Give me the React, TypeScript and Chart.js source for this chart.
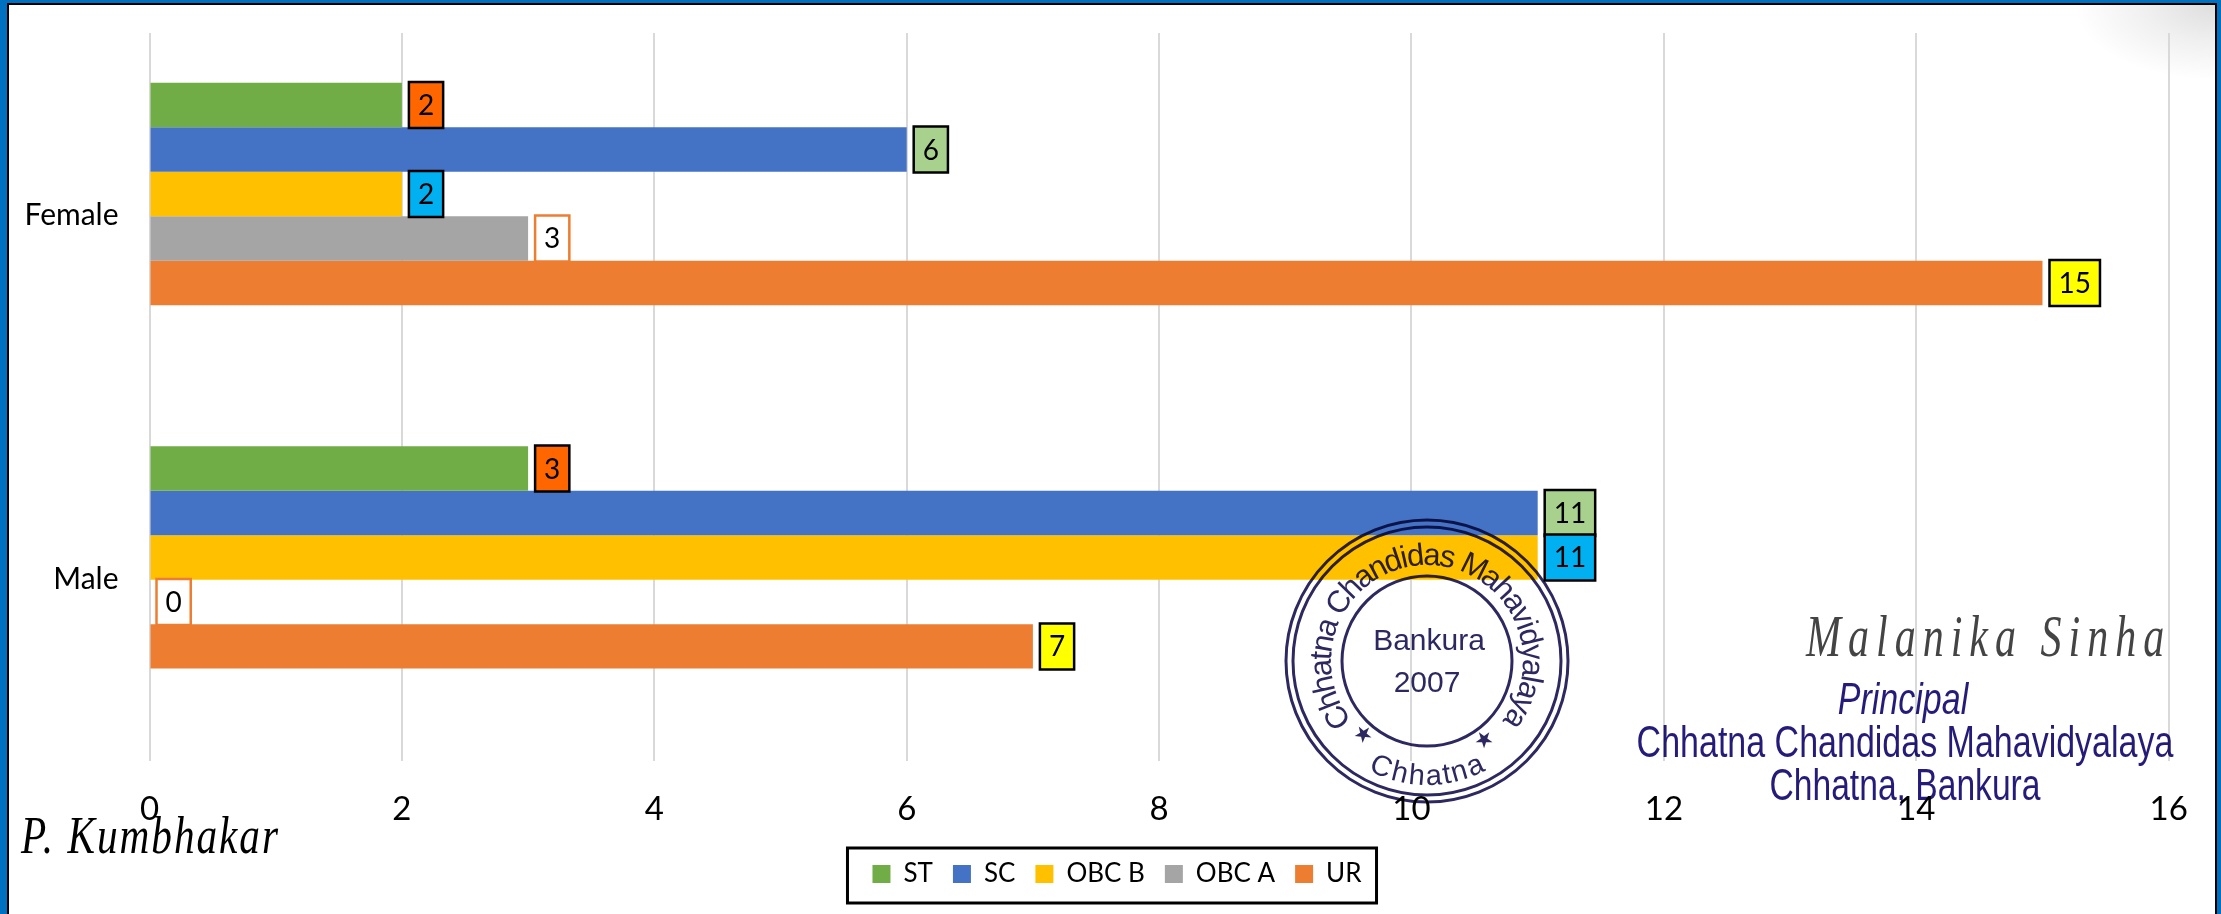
import React, { useEffect, useRef } from "react";
import { Chart, registerables } from "chart.js";

Chart.register(...registerables);

const categories = ["Female", "Male"];
const seriesNames = ["ST", "SC", "OBC B", "OBC A", "UR"];
const ST = [2, 3];
const SC = [6, 11];
const OBC_B = [2, 11];
const OBC_A = [3, 0];
const UR = [15, 7];
const xTicks = [0, 2, 4, 6, 8, 10, 12, 14, 16];
const seriesColors = ["#70ad47", "#4472c4", "#ffc000", "#a5a5a5", "#ed7d31"];
const labelFills = ["#ff6600", "#a9d18e", "#00b0f0", "#ffffff", "#ffff00"];
const labelBorders = ["#000000", "#000000", "#000000", "#ed7d31", "#000000"];

const FONT = "Lato";
const INK = "#2d2960";
const BLUE_INK = "#241c78";

function arcText(ctx: CanvasRenderingContext2D, text: string, cx: number, cy: number, r: number, startDeg: number, endDeg: number, inward: boolean) {
  const widths = [...text].map((c) => ctx.measureText(c).width);
  const total = widths.reduce((a, b) => a + b, 0);
  let run = 0;
  [...text].forEach((c, i) => {
    const mid = (run + widths[i] / 2) / total;
    run += widths[i];
    const deg = startDeg + (endDeg - startDeg) * mid;
    const a = (deg * Math.PI) / 180;
    ctx.save();
    ctx.translate(cx + r * Math.sin(a), cy - r * Math.cos(a));
    ctx.rotate(inward ? a : a + Math.PI);
    ctx.textAlign = "center";
    ctx.textBaseline = "alphabetic";
    ctx.fillText(c, 0, 0);
    ctx.restore();
  });
}

function tallText(ctx: CanvasRenderingContext2D, text: string, x: number, y: number, maxWidth: number, stretch: number) {
  ctx.save();
  ctx.translate(x, y);
  ctx.scale(1, stretch);
  ctx.fillText(text, 0, 0, maxWidth);
  ctx.restore();
}

const stampPlugin = {
  id: "stamp",
  afterDatasetsDraw(chart: any) {
    const ctx: CanvasRenderingContext2D = chart.ctx;
    const cx = 1427;
    const cy = 661;
    ctx.save();
    ctx.globalCompositeOperation = "multiply";
    ctx.strokeStyle = INK;
    ctx.fillStyle = INK;
    ctx.lineWidth = 3;
    [141, 134, 85].forEach((r) => {
      ctx.beginPath();
      ctx.arc(cx, cy, r, 0, Math.PI * 2);
      ctx.stroke();
    });
    ctx.font = "31px 'Liberation Sans'";
    arcText(ctx, "Chhatna Chandidas Mahavidyalaya", cx, cy, 96, -128, 128, true);
    ctx.font = "29px 'Liberation Sans'";
    arcText(ctx, "Chhatna", cx, cy, 124, 209, 151, false);
    ctx.font = "22px 'DejaVu Sans'";
    arcText(ctx, "★", cx, cy, 104, 221, 221, false);
    arcText(ctx, "★", cx, cy, 104, 144, 144, false);
    ctx.font = "30px 'Liberation Sans'";
    ctx.textAlign = "center";
    ctx.textBaseline = "middle";
    ctx.fillText("Bankura", cx + 2, 642);
    ctx.fillText("2007", cx, 684);
    ctx.restore();
  },
};

const labelPlugin = {
  id: "boxedLabels",
  afterDatasetsDraw(chart: any) {
    const ctx: CanvasRenderingContext2D = chart.ctx;
    ctx.save();
    ctx.font = `28px ${FONT}`;
    ctx.textAlign = "center";
    ctx.textBaseline = "middle";
    chart.data.datasets.forEach((ds: any, d: number) => {
      chart.getDatasetMeta(d).data.forEach((bar: any, i: number) => {
        const text = String(ds.data[i].x);
        const w = ctx.measureText(text).width + 18;
        const left = bar.x + 7;
        const h = 46;
        ctx.fillStyle = labelFills[d];
        ctx.strokeStyle = labelBorders[d];
        ctx.lineWidth = 2.5;
        ctx.beginPath();
        ctx.rect(left, bar.y - h / 2, w, h);
        ctx.fill();
        ctx.stroke();
        ctx.fillStyle = "#000";
        ctx.fillText(text, left + w / 2, bar.y + 1);
      });
    });
    ctx.restore();
  },
};

const notesPlugin = {
  id: "notes",
  afterDraw(chart: any) {
    const ctx: CanvasRenderingContext2D = chart.ctx;
    const hit = chart.legend.legendHitBoxes;
    const first = hit[0];
    const last = hit[hit.length - 1];
    ctx.save();
    ctx.strokeStyle = "#000";
    ctx.lineWidth = 3;
    ctx.strokeRect(first.left - 25, first.top - 13, last.left + last.width - first.left + 40, 55);

    ctx.globalCompositeOperation = "multiply";
    ctx.fillStyle = BLUE_INK;
    ctx.textAlign = "center";
    ctx.textBaseline = "middle";
    ctx.font = "italic 34px 'Liberation Sans'";
    tallText(ctx, "Principal", 1903, 702, 131, 1.3);
    ctx.font = "34px 'Liberation Sans'";
    tallText(ctx, "Chhatna Chandidas Mahavidyalaya", 1905, 745, 537, 1.3);
    tallText(ctx, "Chhatna, Bankura", 1905, 788, 271, 1.3);

    ctx.fillStyle = "#444";
    ctx.font = "italic 42px 'Liberation Serif'";
    (ctx as any).letterSpacing = "7px";
    ctx.textAlign = "left";
    ctx.textBaseline = "alphabetic";
    tallText(ctx, "Malanika Sinha", 1806, 656, 374, 1.4);
    ctx.fillStyle = "#000";
    (ctx as any).letterSpacing = "2px";
    ctx.font = "italic 42px 'Liberation Serif'";
    tallText(ctx, "P. Kumbhakar", 21, 853, 259, 1.25);
    ctx.restore();
  },
};

export default function App() {
  const ref = useRef<HTMLCanvasElement>(null);
  useEffect(() => {
    document.body.style.margin = "0";
    const seriesValues = [ST, SC, OBC_B, OBC_A, UR];
    const chart = new Chart(ref.current as HTMLCanvasElement, {
      type: "bar",
      data: {
        labels: categories,
        datasets: seriesNames.map((name, s) => ({
          label: name,
          yAxisID: "bars",
          data: seriesValues[s].map((v, i) => ({ x: v, y: i })),
          backgroundColor: seriesColors[s],
          barPercentage: 1,
          categoryPercentage: 0.6116,
        })),
      } as any,
      options: {
        indexAxis: "y",
        animation: false,
        responsive: false,
        layout: { padding: { top: 33, right: 7, bottom: 17, left: 20 } },
        plugins: {
          tooltip: { enabled: false },
          legend: {
            position: "bottom",
            labels: {
              boxWidth: 18,
              boxHeight: 18,
              padding: 20,
              color: "#000",
              font: { family: FONT, size: 26 },
            },
          },
        },
        scales: {
          x: {
            type: "linear",
            min: 0,
            max: 16.359,
            afterBuildTicks: (s: any) => {
              s.ticks = xTicks.map((value) => ({ value }));
            },
            afterFit: (s: any) => {
              s.height = 80;
            },
            grid: { color: "#d9d9d9", lineWidth: 2, drawTicks: false },
            border: { display: false },
            ticks: { color: "#000", font: { family: FONT, size: 33 }, padding: 29, maxRotation: 0 },
          },
          y: {
            type: "category",
            labels: categories,
            offset: true,
            afterFit: (s: any) => {
              s.width = 129.5;
              s.paddingTop = 0;
              s.paddingBottom = 0;
            },
            grid: { display: false, drawTicks: false },
            border: { display: false },
            ticks: { color: "#000", font: { family: FONT, size: 30 }, padding: 31 },
          },
          bars: {
            type: "linear",
            axis: "y",
            display: false,
            offset: false,
            reverse: true,
            min: -0.443,
            max: 1.56,
            afterBuildTicks: (s: any) => {
              s.ticks = categories.map((_, value) => ({ value }));
            },
          },
        },
      } as any,
      plugins: [stampPlugin, labelPlugin, notesPlugin],
    });
    return () => chart.destroy();
  }, []);
  return (
    <div style={{ position: "absolute", left: 0, top: 0, width: 2221, height: 914, overflow: "hidden", background: "#0070c0" }}>
      <div
        style={{
          position: "absolute",
          left: 7,
          top: 3,
          width: 2210,
          height: 920,
          boxSizing: "border-box",
          border: "2px solid #000",
          background: "radial-gradient(ellipse 140px 75px at 100% 0%, #dedede 0%, #f0f0f0 50%, #ffffff 100%)",
        }}
      />
      <canvas ref={ref} width={2221} height={914} style={{ position: "absolute", left: 0, top: 0 }} />
    </div>
  );
}
